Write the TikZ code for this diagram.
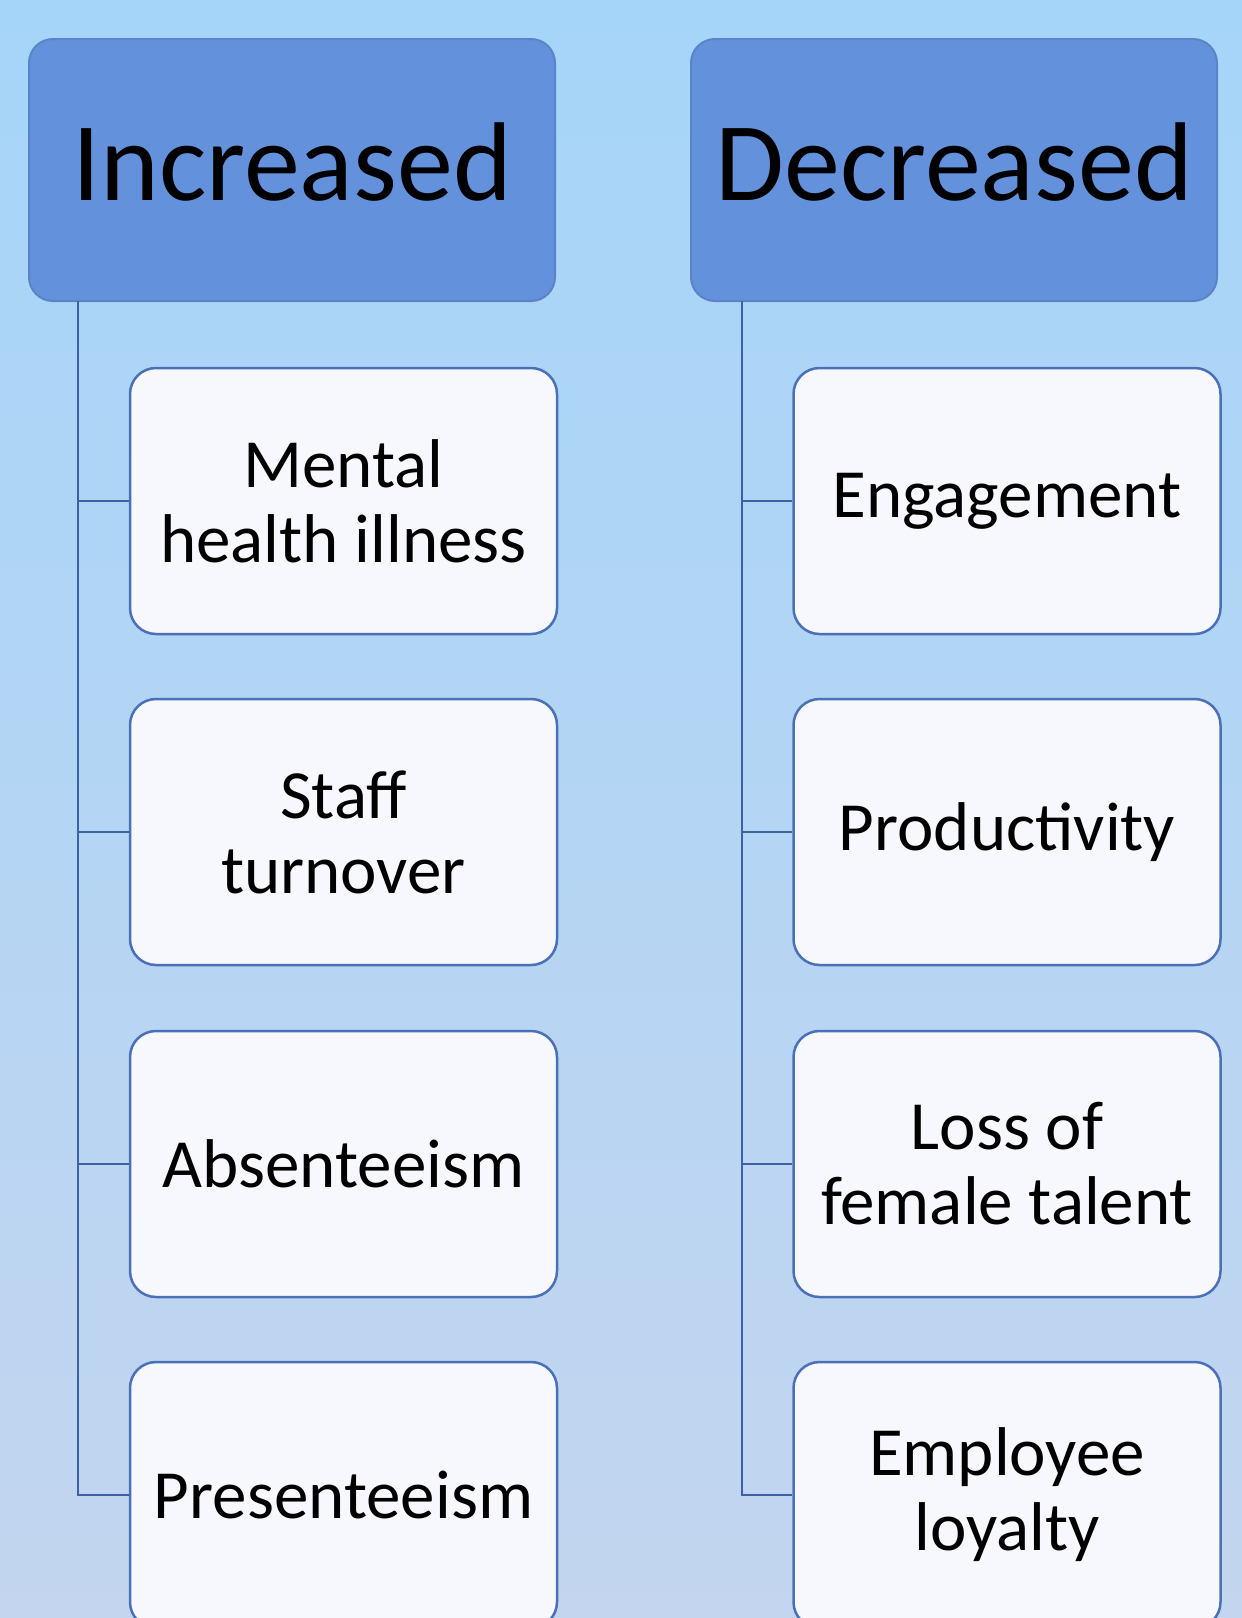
\documentclass[tikz,border=0pt]{standalone}
\usepackage{fontspec}
\setmainfont{Carlito}
\usepackage{tikz}

\definecolor{bgtop}{HTML}{A5D5F9}
\definecolor{bgbot}{HTML}{C3D5EF}
\definecolor{headfill}{HTML}{6391DC}
\definecolor{headline}{HTML}{5A84C8}
\definecolor{itemfill}{HTML}{F6F8FD}
\definecolor{itemline}{HTML}{4A70B8}
\definecolor{treeline}{HTML}{3E61A6}

\tikzset{
  head/.style={rounded corners=24, fill=headfill, draw=headline, line width=2,
    minimum width=526, minimum height=262, inner sep=0, text depth=16,
    font=\fontsize{112}{120}\selectfont},
  item/.style={rounded corners=26, fill=itemfill, draw=itemline, line width=2.5,
    minimum width=427, minimum height=266, inner sep=0, align=center,
    font=\fontsize{69}{75}\selectfont},
  branch/.style={draw=treeline, line width=2.5}
}

\begin{document}
\begin{tikzpicture}[x=1pt,y=-1pt]
\useasboundingbox (0,0) rectangle (1242,1618);
\clip (0,0) rectangle (1242,1618);
\shade[top color=bgtop, bottom color=bgbot] (0,0) rectangle (1242,1618);

    \node[head] (inc) at (292,170) {Increased};
    \node[head] (dec) at (954,170) {Decreased};

    \node[item] (i1) at (343.5,501) {Mental\\health illness};
    \node[item] (i2) at (343.5,832) {Staff\\turnover};
    \node[item] (i3) at (343.5,1164) {Absenteeism};
    \node[item] (i4) at (343.5,1495) {Presenteeism};

    \node[item] (d1) at (1007,501) {Engagement};
    \node[item] (d2) at (1007,832) {Productivity};
    \node[item] (d3) at (1007,1164) {Loss of\\female talent};
    \node[item] (d4) at (1007,1495) {Employee\\loyalty};

    \coordinate (itop) at (78,301);
    \coordinate (dtop) at (742,301);

    \foreach \n in {1,...,4} {
      \path[branch] (itop) |- (i\n.west);
      \path[branch] (dtop) |- (d\n.west);
    }
\end{tikzpicture}
\end{document}
